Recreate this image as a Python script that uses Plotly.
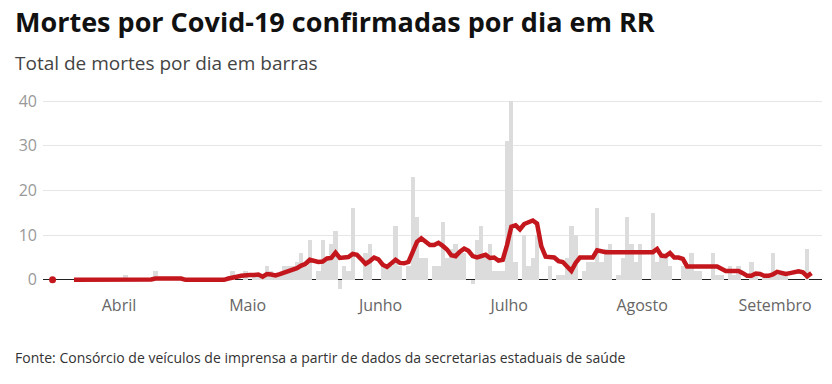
import pandas as pd
import plotly.graph_objects as go

# ---- data (daily, 2020-03-16 .. 2020-09-09) ----
start_date = "2020-03-16"
end_date = "2020-09-09"

deaths_mar = [0] * 16
deaths_apr = [0, 1, 0, 0, 0, 0, 0, 0, 2, 0, 0, 0, 0, 0, 0, 0, 0, 0, 0, 0, 0, 0, 0, 0, 0, 0, 2, 0, 0, 2]
deaths_may = [0, 1, 1, 1, 3, 2, 1, 1, 3, 3, 3, 4, 6, 3, 9, 0, 2, 9, 5, 8, 11, -2, 3, 2, 16, 0, 0, 6, 8, 0, 0]
deaths_jun = [3, 3, 3, 12, 3, 0, 3, 23, 14, 5, 5, 0, 3, 3, 13, 5, 7, 8, 6, 6, 0, -1, 9, 12, 5, 8, 2, 2, 2, 31]
deaths_jul = [40, 4, 0, 10, 3, 5, 10, 0, 0, 3, 0, 1, 1, 5, 12, 10, 0, 2, 4, 4, 16, 4, 7, 8, 0, 1, 5, 14, 8, 4, 8]
deaths_aug = [0, 0, 15, 4, 6, 5, 3, 0, 0, 3, 3, 6, 2, 2, 0, 0, 6, 1, 1, 0, 3, 1, 3, 0, 0, 4, 1, 0, 1, 1, 6]
deaths_sep = [1, 1, 1, 0, 0, 0, 0, 7, 0]

avg_mar = [0, None, None, None, None, 0, 0, 0, 0, 0, 0, 0, 0, 0, 0, 0]
avg_apr = [0, 0.1, 0.1, 0.1, 0.1, 0.1, 0.1, 0.1, 0.3, 0.3, 0.3, 0.3, 0.3, 0.3, 0.3,
           0, 0, 0, 0, 0, 0, 0, 0, 0, 0, 0.3, 0.6, 0.7, 0.9, 1.1]
avg_may = [1.1, 1.1, 1.2, 0.7, 1.3, 1.2, 1.0, 1.3, 1.6, 1.9, 2.3, 2.6, 3.2, 3.6, 4.5, 4.3,
           4.0, 4.1, 4.8, 4.9, 6.1, 4.9, 5.1, 5.1, 5.8, 5.6, 4.6, 3.6, 4.2, 5.0, 4.6]
avg_jun = [3.4, 2.9, 3.6, 4.5, 3.8, 3.7, 4.0, 6.2, 8.5, 9.3, 8.6, 7.8, 7.8, 8.3, 7.6,
           6.8, 5.5, 5.3, 6.3, 7.0, 6.5, 5.3, 5.0, 5.3, 5.6, 4.9, 5.0, 4.3, 4.5, 7.8]
avg_jul = [11.9, 12.2, 11.3, 12.5, 13.0, 13.3, 12.6, 7.5, 5.2, 5.1, 5.0, 4.2, 4.0, 3.0,
           2.0, 3.8, 5.0, 5.0, 5.0, 5.0, 6.6, 6.3, 6.2, 6.2, 6.2, 6.2, 6.2, 6.2, 6.2, 6.2, 6.2]
avg_aug = [6.2, 6.2, 6.2, 6.9, 5.4, 5.3, 6.0, 5.0, 5.0, 4.7, 3.0, 3.0, 3.0, 3.0, 3.0, 3.0,
           3.0, 3.0, 2.5, 2.0, 2.0, 2.0, 2.0, 1.5, 0.9, 0.9, 1.4, 1.3, 0.9, 0.9, 1.2]
avg_sep = [1.8, 1.5, 1.3, 1.5, 1.7, 1.9, 1.7, 0.8, 1.5]

month_ticks = ["2020-04-01", "2020-05-01", "2020-06-01", "2020-07-01", "2020-08-01", "2020-09-01"]
month_labels = ["Abril", "Maio", "Junho", "Julho", "Agosto", "Setembro"]
y_ticks = [0, 10, 20, 30, 40]

title_text = "Mortes por Covid-19 confirmadas por dia em RR"
subtitle_text = "Total de mortes por dia em barras"
source_text = "Fonte: Consórcio de veículos de imprensa a partir de dados da secretarias estaduais de saúde"

# ---- build ----
dates = pd.date_range(start_date, end_date, freq="D")
deaths = deaths_mar + deaths_apr + deaths_may + deaths_jun + deaths_jul + deaths_aug + deaths_sep
avg = avg_mar + avg_apr + avg_may + avg_jun + avg_jul + avg_aug + avg_sep

RED = "#c4171d"
FONT = "Open Sans"

fig = go.Figure()
fig.add_trace(go.Bar(
    x=dates, y=deaths, marker=dict(color="#dcdcdc", line=dict(width=0)),
    xperiod=86400000, xperiodalignment="middle", hoverinfo="skip",
))
fig.add_trace(go.Scatter(
    x=dates, y=avg, mode="lines", line=dict(color=RED, width=4.5, shape="linear"),
    connectgaps=False, xperiod=86400000, xperiodalignment="middle",
))
fig.add_trace(go.Scatter(
    x=dates[:1], y=avg[:1], mode="markers", marker=dict(color=RED, size=7),
    xperiod=86400000, xperiodalignment="middle",
))

W, H = 832, 384
# plot area in px: x 43..822, y 98.8..291.2
L, R, T, B = 43, 10, 98.8, 92.8
pw = W - L - R
ph = H - T - B

def px_x(px):
    return (px - L) / pw

def px_y(py):
    return (H - B - py) / ph

fig.update_layout(
    width=W, height=H,
    margin=dict(l=L, r=R, t=T, b=B, pad=0),
    paper_bgcolor="white", plot_bgcolor="white",
    showlegend=False, bargap=0,
    font=dict(family=FONT),
    xaxis=dict(
        type="date",
        range=["2020-03-14 06:30", "2020-09-11 23:00"],
        tickvals=month_ticks, ticktext=month_labels,
        showgrid=False, zeroline=False, showline=False, ticks="",
        tickfont=dict(family=FONT, size=16, color="#666666"),
        ticklabelstandoff=3,
    ),
    yaxis=dict(
        range=[-2.5, 40.5],
        tickvals=y_ticks,
        showgrid=True, gridcolor="#e6e6e6", gridwidth=1,
        zeroline=True, zerolinecolor="#222222", zerolinewidth=1,
        showline=False, ticks="",
        tickfont=dict(family=FONT, size=16, color="#999999"),
        ticklabelstandoff=5,
    ),
    annotations=[
        dict(text="<b>" + title_text + "</b>", xref="paper", yref="paper",
             x=px_x(13), y=px_y(21), xanchor="left", yanchor="middle", showarrow=False,
             font=dict(family=FONT, size=27, color="#111111")),
        dict(text=subtitle_text, xref="paper", yref="paper",
             x=px_x(13), y=px_y(63), xanchor="left", yanchor="middle", showarrow=False,
             font=dict(family=FONT, size=19, color="#444444")),
        dict(text=source_text, xref="paper", yref="paper",
             x=px_x(13), y=px_y(358), xanchor="left", yanchor="middle", showarrow=False,
             font=dict(family=FONT, size=14, color="#333333")),
    ],
)

fig.write_html("out.html", config={"displayModeBar": False},
               post_script="document.body.style.margin='0';")
